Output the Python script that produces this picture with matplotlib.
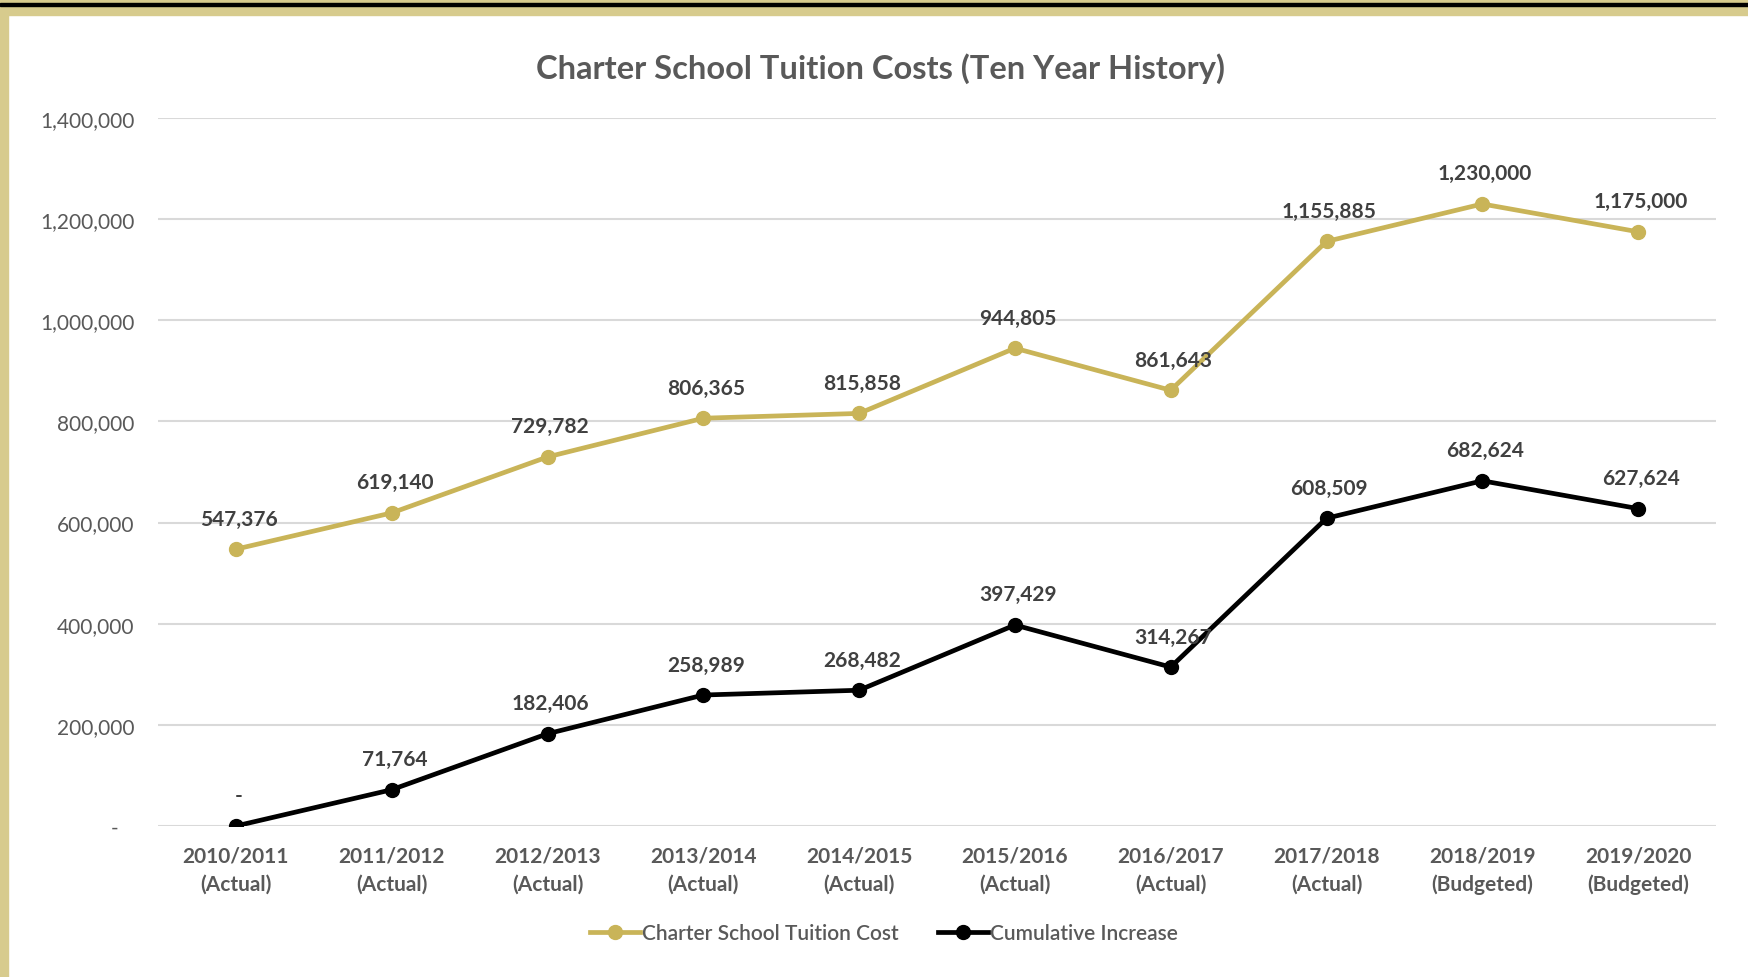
import matplotlib.pyplot as plt
from matplotlib.patches import Rectangle
import numpy as np

plt.rcParams['font.family'] = ['Lato', 'DejaVu Sans']

years = ['2010/2011', '2011/2012', '2012/2013', '2013/2014', '2014/2015',
         '2015/2016', '2016/2017', '2017/2018', '2018/2019', '2019/2020']
status = ['Actual'] * 8 + ['Budgeted'] * 2
tuition = [547376, 619140, 729782, 806365, 815858,
           944805, 861643, 1155885, 1230000, 1175000]
cumulative = [0, 71764, 182406, 258989, 268482,
              397429, 314267, 608509, 682624, 627624]
yticks = [0, 200000, 400000, 600000, 800000, 1000000, 1200000, 1400000]

GOLD = '#C9B458'
GREY = '#595959'
LABEL = '#404040'
TAN = '#D7CB8D'


def fmt(v):
    return '-' if v == 0 else f'{v:,.0f}'


fig = plt.figure(figsize=(17.49, 9.78), dpi=100)
W, H = 1749, 978

# frame bands around the chart
fig.patches.append(Rectangle((0, 1 - 16 / H), 1, 16 / H, transform=fig.transFigure,
                             color=TAN, zorder=0))
fig.patches.append(Rectangle((0, 1 - 7 / H), 1, 3 / H, transform=fig.transFigure,
                             color='black', zorder=1))
fig.patches.append(Rectangle((0, 0), 8 / W, 1, transform=fig.transFigure,
                             color=TAN, zorder=0))

ax = fig.add_axes([158 / W, 1 - 827 / H, (1716 - 158) / W, (827 - 119) / H])
x = np.arange(len(years))

ax.plot(x, tuition, color=GOLD, lw=3.4, marker='o', ms=10,
        label='Charter School Tuition Cost', zorder=3)
ax.plot(x, cumulative, color='black', lw=3.4, marker='o', ms=10,
        label='Cumulative Increase', zorder=3)

for series in (tuition, cumulative):
    for xi, v in zip(x, series):
        ax.annotate(fmt(v), (xi, v), xytext=(2, 22), textcoords='offset points',
                    ha='center', va='center', fontsize=15, fontweight='bold',
                    color=LABEL)

ax.set_xlim(-0.5, 9.5)
ax.set_ylim(0, 1400000)
ax.set_yticks(yticks)
ax.set_yticklabels([fmt(v) + ('   ' if v == 0 else '') for v in yticks],
                   fontsize=15, color=GREY)
ax.set_xticks(x)
ax.set_xticklabels([f'{y}\n({s})' for y, s in zip(years, status)],
                   fontsize=15, fontweight='bold', color=GREY, linespacing=1.5)
ax.tick_params(axis='both', length=0)
ax.tick_params(axis='y', pad=17)
ax.tick_params(axis='x', pad=14)
ax.grid(axis='y', color='#D9D9D9', lw=1.5)
ax.set_axisbelow(True)
for s in ax.spines.values():
    s.set_visible(False)

fig.text(881 / W, 1 - 69 / H, 'Charter School Tuition Costs (Ten Year History)',
         ha='center', va='center', fontsize=23.5, fontweight='bold', color=GREY)

leg = fig.legend(loc='center', bbox_to_anchor=(884 / W, 1 - 934 / H), ncol=2,
                 frameon=False, prop={'size': 15, 'weight': 'semibold'},
                 handlelength=2.4, handletextpad=0.1, columnspacing=1.9)
for t in leg.get_texts():
    t.set_color(GREY)

fig.savefig('out.png', dpi=100)
